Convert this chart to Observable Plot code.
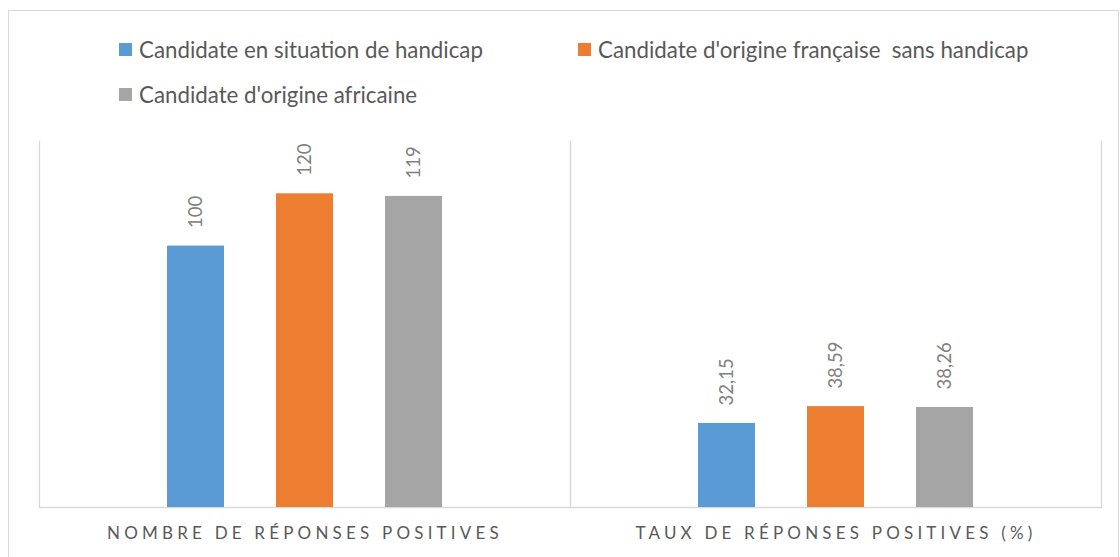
<!DOCTYPE html>
<html><head><meta charset="utf-8">
<script src="https://cdn.jsdelivr.net/npm/d3@7"></script>
<script src="https://cdn.jsdelivr.net/npm/@observablehq/plot@0.6"></script>
<style>
body{margin:0;background:#fff;font-family:Lato,sans-serif;}
#wrap{position:relative;width:1120px;height:557px;overflow:hidden;}
#border{position:absolute;left:8px;top:10px;width:1111px;height:600px;border:1px solid #d9d9d9;box-sizing:border-box;pointer-events:none}
#legend{position:relative;height:120px;}
.item{position:absolute;display:flex;align-items:center;height:20px;font-size:22.3px;color:#595959;white-space:pre;}
.sw{width:13px;height:13px;margin-right:7px;flex:none}
#chart svg{display:block}
#chart g[aria-label="fx-axis tick label"] text{letter-spacing:4.2px}
</style></head>
<body><div id="wrap"><div id="border"></div><div id="legend"></div><div id="chart"></div></div>
<script>
const groups = ["NOMBRE DE RÉPONSES POSITIVES", "TAUX DE RÉPONSES POSITIVES (%)"];
const series = ["Candidate en situation de handicap", "Candidate d'origine française  sans handicap", "Candidate d'origine africaine"];
const colors = ["#5b9bd5", "#ed7d31", "#a5a5a5"];
const nombre = [100, 120, 119];
const taux = [32.15, 38.59, 38.26];

const data = groups.flatMap((g, i) => series.map((s, j) => ({group: g, series: s, value: i === 0 ? nombre[j] : taux[j]})));

// legend
const legendPos = [[119, 39], [578, 39], [119, 84]];
const legend = document.getElementById("legend");
series.forEach((s, i) => {
  const it = document.createElement("div");
  it.className = "item";
  it.style.left = legendPos[i][0] + "px";
  it.style.top = legendPos[i][1] + "px";
  const sw = document.createElement("span");
  sw.className = "sw";
  sw.style.background = colors[i];
  const tx = document.createElement("span");
  tx.textContent = s;
  it.append(sw, tx);
  legend.append(it);
});

const fmt = v => String(v).replace(".", ",");

const chart = Plot.plot({
  width: 1120,
  height: 437,
  marginTop: 21,
  marginBottom: 50,
  marginLeft: 38,
  marginRight: 19,
  style: {fontFamily: "Lato, sans-serif", color: "#595959", background: "transparent"},
  fx: {domain: groups, padding: 0, label: null},
  x: {domain: series, paddingInner: 0.479, paddingOuter: 1.169, axis: null},
  y: {domain: [0, 140], axis: null},
  color: {domain: series, range: colors},
  marks: [
    Plot.axisFx({anchor: "bottom", label: null, tickSize: 0, tickPadding: 19, fontSize: 17}),
    Plot.ruleY([0], {stroke: "#d9d9d9", strokeWidth: 1.3}),
    Plot.frame({anchor: "left", stroke: "#d9d9d9", strokeWidth: 1.3}),
    Plot.frame({anchor: "right", stroke: "#d9d9d9", strokeWidth: 1.3}),
    Plot.barY(data, {fx: "group", x: "series", y: "value", fill: "series"}),
    Plot.text(data, {fx: "group", x: "series", y: "value", text: d => fmt(d.value), rotate: -90, textAnchor: "start", dy: -18, fill: "#808080", fontSize: 18.5})
  ]
});
document.getElementById("chart").append(chart);
</script>
</body></html>
